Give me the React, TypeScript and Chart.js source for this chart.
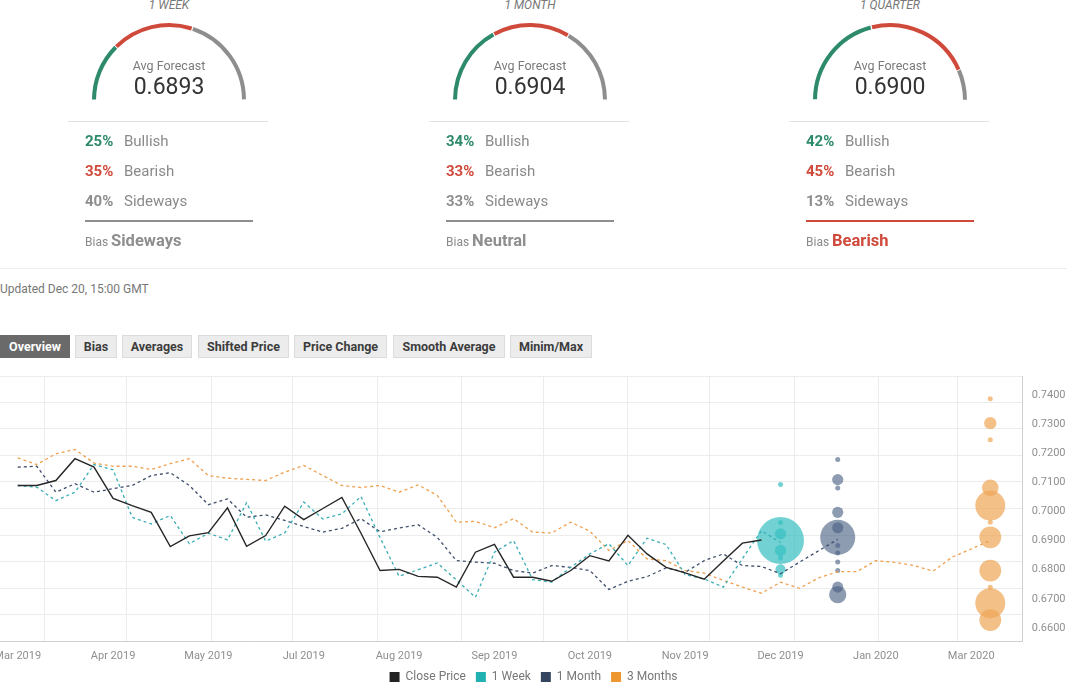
import React, { useEffect, useRef } from "react";
import { Chart, registerables } from "chart.js";

Chart.register(...registerables);
Chart.defaults.font.family = "Roboto, 'Noto Sans', sans-serif";

// ---------- Sentiment summary data ----------
const horizons = ["1 WEEK", "1 MONTH", "1 QUARTER"];
const avgForecast = ["0.6893", "0.6904", "0.6900"];
const bullishPct = [25, 34, 42];
const bearishPct = [35, 33, 45];
const sidewaysPct = [40, 33, 13];
const biasLabels = ["Sideways", "Neutral", "Bearish"];
const tabs = ["Overview", "Bias", "Averages", "Shifted Price", "Price Change", "Smooth Average", "Minim/Max"];
const updatedText = "Updated Dec 20, 15:00 GMT";

// ---------- Chart data (weekly points, week 0 = Mar 22 2019) ----------
const seriesNames = ["Close Price", "1 Week", "1 Month", "3 Months"];
const closePrice = [
  0.7089, 0.7089, 0.7106, 0.7181, 0.7152, 0.7045, 0.702, 0.6997, 0.6879, 0.6916,
  0.6927, 0.7012, 0.688, 0.6917, 0.7018, 0.6972, 0.701, 0.7048, 0.6925, 0.6797,
  0.6801, 0.6777, 0.6774, 0.674, 0.686, 0.6887, 0.6774, 0.6774, 0.676, 0.6797,
  0.6848, 0.683, 0.6918, 0.6854, 0.6808, 0.6789, 0.6767, 0.683, 0.6891, 0.6902,
];
const forecast1Week = [
  0.7089, 0.7083, 0.7037, 0.7066, 0.7161, 0.7143, 0.698, 0.6957, 0.6986, 0.6889,
  0.6925, 0.6902, 0.703, 0.6898, 0.6926, 0.7032, 0.6974, 0.6992, 0.7051, 0.691,
  0.6777, 0.68, 0.6823, 0.6765, 0.6705, 0.686, 0.69, 0.6766, 0.6757, 0.6808,
  0.6854, 0.6889, 0.6814, 0.6908, 0.6886, 0.6783, 0.6768, 0.674, 0.6838, 0.6934,
  0.6893,
];
const forecast1Month = [
  0.7152, 0.7155, 0.7066, 0.7095, 0.7066, 0.7078, 0.7089, 0.7123, 0.7133, 0.7089,
  0.7023, 0.7043, 0.698, 0.6988, 0.6969, 0.6948, 0.6929, 0.6942, 0.6975, 0.693,
  0.6943, 0.6954, 0.6911, 0.6831, 0.6826, 0.6822, 0.6797, 0.6788, 0.6814, 0.6808,
  0.6797, 0.6732, 0.676, 0.6776, 0.6806, 0.6791, 0.6831, 0.6854, 0.6814, 0.6811,
  0.6786, 0.6826, 0.6865, 0.6904,
];
const forecast3Months = [
  0.7184, 0.7161, 0.7198, 0.7213, 0.7166, 0.7155, 0.7155, 0.7144, 0.7164, 0.7181,
  0.7123, 0.7114, 0.711, 0.7106, 0.7135, 0.7158, 0.7123, 0.7089, 0.7082, 0.7089,
  0.7066, 0.7091, 0.7055, 0.6963, 0.6966, 0.6944, 0.6975, 0.6929, 0.6926, 0.6963,
  0.6932, 0.6866, 0.69, 0.6837, 0.6831, 0.6797, 0.6788, 0.6763, 0.674, 0.6719,
  0.6757, 0.6736, 0.6772, 0.6793, 0.6793, 0.6831, 0.6825, 0.6814, 0.6795, 0.6843,
  0.6871, 0.69,
];
// individual forecasts (value, number of votes) at each horizon's target week
const week1Values = [0.7092, 0.6962, 0.6923, 0.69, 0.6866, 0.684, 0.6801, 0.6781];
const week1Votes = [1, 1, 5, 88, 5, 1, 4, 1];
const month1Values = [0.7178, 0.7109, 0.708, 0.6997, 0.6944, 0.6911, 0.6883, 0.6857, 0.6826, 0.6797, 0.674, 0.6714];
const month1Votes = [1, 5, 1, 5, 5, 49, 1, 1, 1, 1, 5, 12];
const months3Values = [0.7387, 0.7303, 0.7246, 0.7081, 0.702, 0.6963, 0.6911, 0.6797, 0.674, 0.6685, 0.6627];
const months3Votes = [1, 6, 1, 11, 36, 1, 19, 19, 1, 36, 19];

const xTickLabels = ["Mar 2019", "Apr 2019", "May 2019", "Jul 2019", "Aug 2019", "Sep 2019", "Oct 2019", "Nov 2019", "Dec 2019", "Jan 2020", "Mar 2020"];
const xTickStepWeeks = 5;
const yTickValues = [0.66, 0.67, 0.68, 0.69, 0.7, 0.71, 0.72, 0.73, 0.74];

// ---------- styles / layout ----------
const GREEN = "#2e8a6c";
const RED = "#d04a3b";
const GREY = "#8e8e8e";
const TXT = "#8a8a8a";
const COL_X = [85, 446, 806];
const TAB_LEFT = [0, 75, 122, 198, 294, 393, 510];
const TAB_W = [70, 42, 70, 91, 93, 112, 82];
const X_MIN = -0.93;
const X_MAX = 52.7;
const Y_MIN = 0.6555;
const Y_MAX = 0.7465;
const biasColor: Record<string, string> = { Sideways: GREY, Neutral: GREY, Bearish: RED, Bullish: GREEN };

const START = new Date(2019, 2, 22);
const monthStartWeeks: number[] = [];
for (let m = 3; m <= 14; m++) {
  const d = new Date(2019, m, 1);
  monthStartWeeks.push(Math.round((d.getTime() - START.getTime()) / 86400000) / 7);
}

function Gauge({ i }: { i: number }) {
  const ref = useRef<HTMLCanvasElement>(null);
  useEffect(() => {
    const chart = new Chart(ref.current!, {
      type: "doughnut",
      data: {
        labels: ["Bullish", "Bearish", "Sideways"],
        datasets: [
          {
            data: [bullishPct[i], bearishPct[i], sidewaysPct[i]],
            backgroundColor: [GREEN, RED, GREY],
            borderWidth: 0,
            spacing: 2,
          } as any,
        ],
      },
      options: {
        responsive: false,
        animation: false,
        events: [],
        rotation: -90,
        circumference: 180,
        radius: 76,
        cutout: "94.7%",
        layout: { padding: 0, autoPadding: false },
        plugins: { legend: { display: false }, tooltip: { enabled: false } },
      } as any,
    });
    return () => chart.destroy();
  }, [i]);
  const base = COL_X[i];
  const cx = base + 84;
  const center = (top: number): React.CSSProperties => ({
    position: "absolute",
    left: cx,
    top,
    transform: "translate(-50%, -50%)",
    whiteSpace: "nowrap",
  });
  const rowStyle = (top: number): React.CSSProperties => ({
    position: "absolute",
    top: top - 10,
    height: 20,
    lineHeight: "20px",
    whiteSpace: "nowrap",
    fontSize: 15,
  });
  const rows: [number, string, string][] = [
    [bullishPct[i], "Bullish", GREEN],
    [bearishPct[i], "Bearish", RED],
    [sidewaysPct[i], "Sideways", GREY],
  ];
  return (
    <>
      <div style={{ ...center(5), fontStyle: "italic", fontSize: 12, color: "#777" }}>{horizons[i]}</div>
      <canvas ref={ref} width={160} height={90} style={{ position: "absolute", left: cx - 80, top: 16.5 }} />
      <div style={{ ...center(65), fontSize: 12.5, color: "#7a7a7a" }}>Avg Forecast</div>
      <div style={{ ...center(86), fontSize: 23, color: "#333" }}>{avgForecast[i]}</div>
      <div style={{ position: "absolute", left: base - 17, top: 121, width: 200, height: 1, background: "#e2e2e2" }} />
      {rows.map(([p, lab, col], k) => (
        <React.Fragment key={lab}>
          <div style={{ ...rowStyle(141 + k * 30), left: base, fontWeight: 700, color: col }}>{p}%</div>
          <div style={{ ...rowStyle(141 + k * 30), left: base + 39, color: TXT }}>{lab}</div>
        </React.Fragment>
      ))}
      <div style={{ position: "absolute", left: base, top: 219.5, width: 168, height: 2, background: biasColor[biasLabels[i]] }} />
      <div style={{ position: "absolute", left: base, top: 231, height: 20, lineHeight: "20px", whiteSpace: "nowrap" }}>
        <span style={{ fontSize: 12, color: TXT }}>Bias </span>
        <span style={{ fontSize: 16.5, fontWeight: 700, color: biasColor[biasLabels[i]] }}>{biasLabels[i]}</span>
      </div>
    </>
  );
}

function MainChart() {
  const ref = useRef<HTMLCanvasElement>(null);
  useEffect(() => {
    const toPts = (arr: number[]) => arr.map((v, i) => ({ x: i, y: v }));
    const targetWeek = (arr: number[]) => arr.length - 1;
    const bub = (vals: number[], votes: number[], week: number) =>
      vals.map((v, k) => ({ x: week, y: v, r: 2.5 * Math.sqrt(votes[k]) }));
    const noPad = (s: any) => {
      s.paddingLeft = 0;
      s.paddingRight = 0;
      s.paddingTop = 0;
      s.paddingBottom = 0;
    };
    const legendColors = ["#222222", "#22b1b3", "#34465f", "#ee962f"];
    const lineBase = { pointRadius: 0, tension: 0, xAxisID: "x", yAxisID: "y", fill: false };
    const chart = new Chart(ref.current!, {
      type: "line",
      data: {
        datasets: [
          { ...lineBase, label: seriesNames[0], data: toPts(closePrice), borderColor: "#262626", borderWidth: 1.4, order: 1 },
          { ...lineBase, label: seriesNames[1], data: toPts(forecast1Week), borderColor: "#3aaeb6", borderWidth: 1.3, borderDash: [3, 3], order: 2 },
          { ...lineBase, label: seriesNames[2], data: toPts(forecast1Month), borderColor: "#3f4e6b", borderWidth: 1.3, borderDash: [3, 3], order: 3 },
          { ...lineBase, label: seriesNames[3], data: toPts(forecast3Months), borderColor: "#eea04e", borderWidth: 1.3, borderDash: [3, 3], order: 4 },
          { type: "bubble", label: "1 Week forecasts", data: bub(week1Values, week1Votes, targetWeek(forecast1Week)), backgroundColor: "rgba(54,191,192,0.7)", borderWidth: 0, xAxisID: "x", yAxisID: "y", order: 10 },
          { type: "bubble", label: "1 Month forecasts", data: bub(month1Values, month1Votes, targetWeek(forecast1Month)), backgroundColor: "rgba(72,95,130,0.62)", borderWidth: 0, xAxisID: "x", yAxisID: "y", order: 11 },
          { type: "bubble", label: "3 Months forecasts", data: bub(months3Values, months3Votes, targetWeek(forecast3Months)), backgroundColor: "rgba(238,165,85,0.7)", borderWidth: 0, xAxisID: "x", yAxisID: "y", order: 12 },
        ] as any,
      },
      options: {
        responsive: false,
        animation: false,
        events: [],
        layout: { padding: { top: 8, left: 0, right: 0, bottom: 0 }, autoPadding: false },
        scales: {
          x: {
            type: "linear",
            position: "bottom",
            min: X_MIN,
            max: X_MAX,
            grid: { display: false, drawTicks: false },
            border: { display: true, color: "#d0d0d0" },
            ticks: {
              autoSkip: false,
              maxRotation: 0,
              padding: 9,
              color: "#8f8f8f",
              font: { size: 11 },
              callback: (_v: any, idx: number) => xTickLabels[idx],
            },
            afterBuildTicks: (s: any) => {
              s.ticks = xTickLabels.map((_, k) => ({ value: k * xTickStepWeeks }));
            },
            afterFit: (s: any) => {
              s.height = 20;
              noPad(s);
            },
          },
          xg: {
            type: "linear",
            position: "top",
            min: X_MIN,
            max: X_MAX,
            grid: { color: "#ececec", drawTicks: false },
            border: { display: false },
            ticks: { display: false },
            afterBuildTicks: (s: any) => {
              s.ticks = monthStartWeeks.map((value) => ({ value }));
            },
            afterFit: (s: any) => {
              s.height = 0;
              noPad(s);
            },
          },
          y: {
            type: "linear",
            position: "right",
            min: Y_MIN,
            max: Y_MAX,
            grid: { display: false, drawTicks: false },
            border: { display: true, color: "#d0d0d0" },
            ticks: {
              padding: 9,
              color: "#8f8f8f",
              font: { size: 11 },
              callback: (v: any) => Number(v).toFixed(4),
            },
            afterBuildTicks: (s: any) => {
              s.ticks = yTickValues.map((value) => ({ value }));
            },
            afterFit: (s: any) => {
              s.width = 44.3;
              noPad(s);
            },
          },
          yg: {
            type: "linear",
            position: "left",
            min: Y_MIN,
            max: Y_MAX,
            grid: { color: "#ececec", drawTicks: false },
            border: { display: false },
            ticks: { display: false },
            afterBuildTicks: (s: any) => {
              s.ticks = Array.from({ length: 11 }, (_, k) => ({ value: Y_MIN + ((Y_MAX - Y_MIN) * k) / 10 }));
            },
            afterFit: (s: any) => {
              s.width = 0;
              noPad(s);
            },
          },
        },
        plugins: {
          tooltip: { enabled: false },
          legend: {
            display: true,
            position: "bottom",
            labels: {
              boxWidth: 10,
              boxHeight: 10,
              padding: 10,
              color: "#777",
              font: { size: 12 },
              generateLabels: () =>
                seriesNames.map((name, k) => ({
                  text: name,
                  fillStyle: legendColors[k],
                  strokeStyle: legendColors[k],
                  lineWidth: 0,
                  hidden: false,
                  datasetIndex: k,
                  fontColor: "#777",
                })),
            },
          },
        },
      } as any,
    });
    return () => chart.destroy();
  }, []);
  return <canvas ref={ref} width={1067} height={325} style={{ position: "absolute", left: 0, top: 368 }} />;
}

export default function App() {
  return (
    <div
      style={{
        position: "absolute",
        left: 0,
        top: 0,
        width: 1067,
        height: 682,
        overflow: "hidden",
        background: "#fff",
        fontFamily: "Roboto, 'Noto Sans', sans-serif",
      }}
    >
      {[0, 1, 2].map((i) => (
        <Gauge key={i} i={i} />
      ))}
      <div style={{ position: "absolute", left: 0, top: 268, width: 1067, height: 1, background: "#eeeeee" }} />
      <div style={{ position: "absolute", left: 0, top: 281, height: 16, lineHeight: "16px", fontSize: 12, color: "#777", whiteSpace: "nowrap" }}>
        {updatedText}
      </div>
      {tabs.map((t, k) => (
        <div
          key={t}
          style={{
            position: "absolute",
            left: TAB_LEFT[k],
            top: 335,
            width: TAB_W[k],
            height: 23,
            boxSizing: "border-box",
            lineHeight: "21px",
            textAlign: "center",
            fontSize: 12.5,
            fontWeight: 700,
            whiteSpace: "nowrap",
            color: k === 0 ? "#fff" : "#3c3c3c",
            background: k === 0 ? "#6a6a6a" : "#ececec",
            border: `1px solid ${k === 0 ? "#6a6a6a" : "#dcdcdc"}`,
          }}
        >
          {t}
        </div>
      ))}
      <MainChart />
    </div>
  );
}
